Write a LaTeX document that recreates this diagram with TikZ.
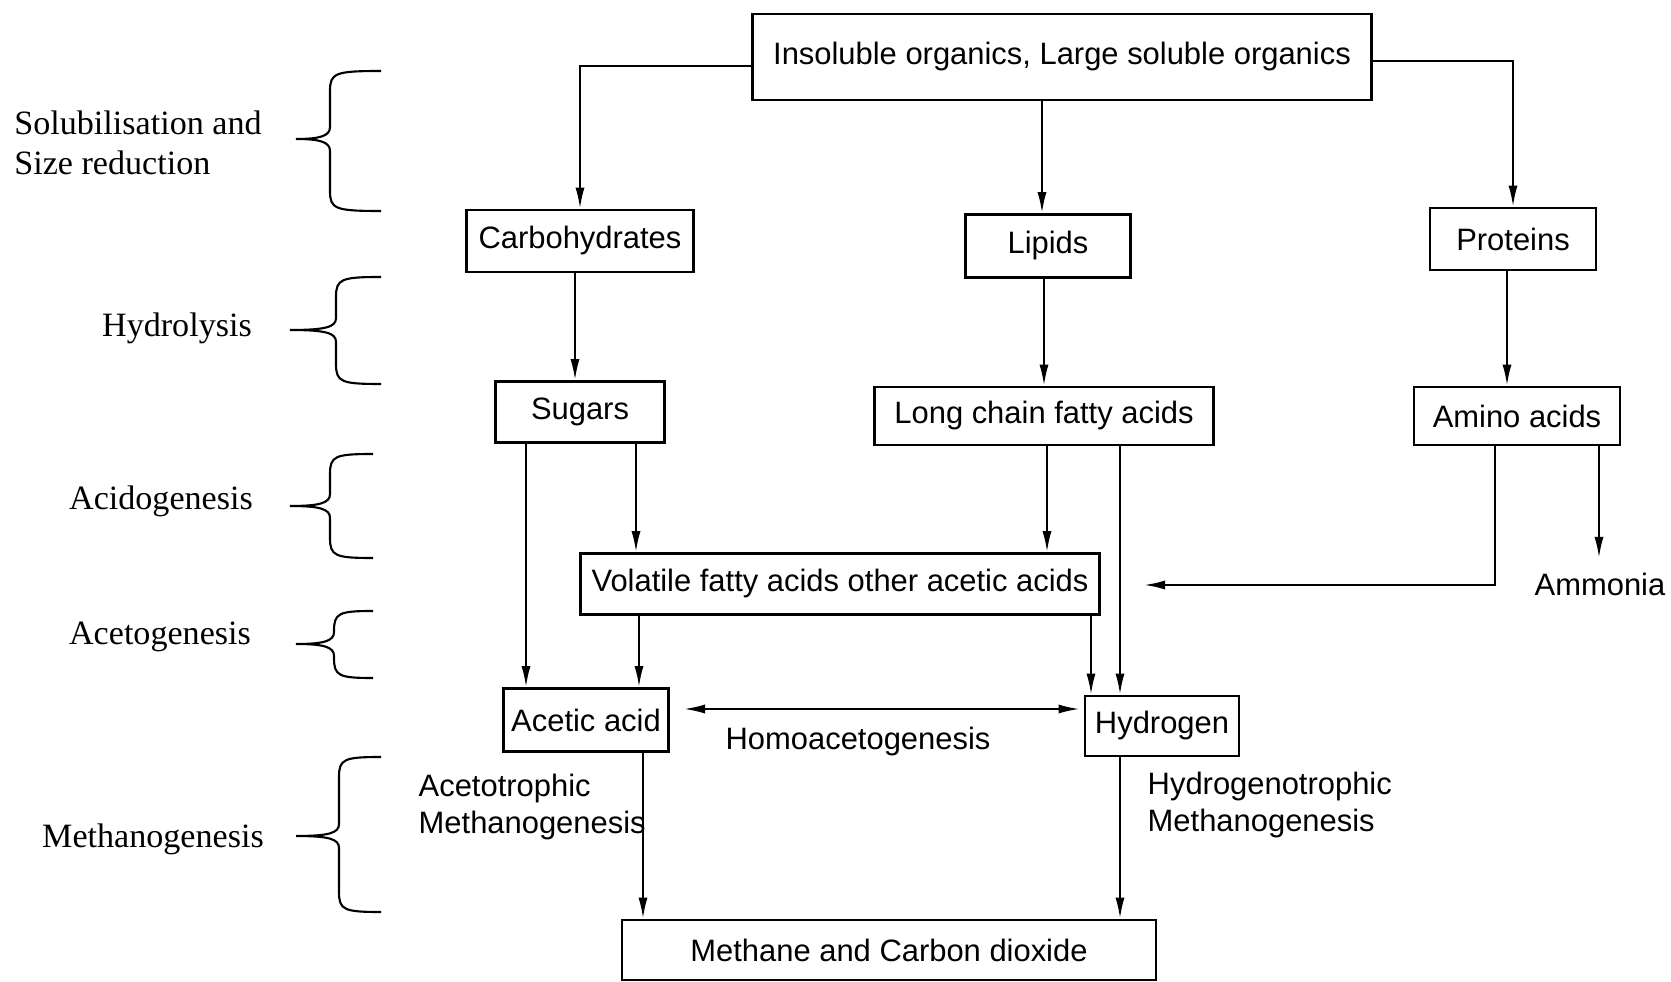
\documentclass[tikz,border=0pt]{standalone}
\usepackage{fontspec}
\setmainfont{Liberation Serif}
\newfontfamily\arialfont{Liberation Sans}
\usetikzlibrary{positioning,arrows.meta}

% left curly brace: tip x, bar x, end x, top y, tip y, bottom y
\newcommand{\phasebrace}[6]{%
  \draw[semithick] (#3,#4) .. controls (#2+0.05,#4) and (#2,#4-0.02) .. (#2,#4-0.2)
    -- (#2,#5+0.12) .. controls (#2,#5+0.03) and (#2-0.1,#5) .. (#1,#5)
    .. controls (#2-0.1,#5) and (#2,#5-0.03) .. (#2,#5-0.12)
    -- (#2,#6+0.2) .. controls (#2,#6+0.02) and (#2+0.05,#6) .. (#3,#6);}

\begin{document}
\begin{tikzpicture}[
    stage/.style={draw, thick, inner sep=0pt, font=\arialfont\fontsize{8.8}{10.5}\selectfont},
    note/.style={font=\arialfont\fontsize{8.8}{10.5}\selectfont, align=left},
    phase/.style={font=\fontsize{9.7}{11.4}\selectfont, align=left},
    flow/.style={-{Latex[length=6pt,width=2.6pt]}, semithick},
    both/.style={{Latex[length=6pt,width=2.6pt]}-{Latex[length=6pt,width=2.6pt]}, semithick}
]
\useasboundingbox (0,0) rectangle (16.71,-9.82);

% process stages
\node[stage, minimum width=6.19cm, minimum height=0.86cm] (organics) at (10.62,-0.57) {Insoluble organics, Large soluble organics};
\node[stage, minimum width=2.27cm, minimum height=0.62cm] (carb) at (5.80,-2.41) {Carbohydrates};
\node[stage, minimum width=1.65cm, minimum height=0.63cm] (lip) at (10.48,-2.46) {Lipids};
\node[stage, minimum width=1.66cm, minimum height=0.62cm] (prot) at (15.13,-2.39) {Proteins};
\node[stage, minimum width=1.69cm, minimum height=0.61cm] (sug) at (5.80,-4.12) {Sugars};
\node[stage, minimum width=3.39cm, minimum height=0.58cm] (lcfa) at (10.44,-4.16) {Long chain fatty acids};
\node[stage, minimum width=2.06cm, minimum height=0.58cm] (amino) at (15.17,-4.16) {Amino acids};
\node[stage, minimum width=5.19cm, minimum height=0.61cm] (vfa) at (8.40,-5.84) {Volatile fatty acids other acetic acids};
\node[stage, minimum width=1.65cm, minimum height=0.63cm] (acetic) at (5.86,-7.20) {Acetic acid};
\node[stage, minimum width=1.54cm, minimum height=0.60cm] (hyd) at (11.62,-7.26) {Hydrogen};
\node[stage, minimum width=5.34cm, minimum height=0.60cm] (meth) at (8.89,-9.50) {Methane and Carbon dioxide};
\node[note, inner sep=4pt] (ammonia) at (16.00,-5.84) {Ammonia};
\coordinate (aminoend) at (11.44,-5.85);

% labels on the paths
\node[note] (homo) at (8.58,-7.42) {Homoacetogenesis};
\node[note, anchor=west, inner sep=0pt] (acetolbl) at (4.18,-8.07) {Acetotrophic\\Methanogenesis};
\node[note, anchor=west, inner sep=0pt] (hydrolbl) at (11.47,-8.05) {Hydrogenotrophic\\Methanogenesis};

% connectors
\draw[flow] ([yshift=-0.09cm]organics.west) -| (carb);
\draw[flow] (10.42,0 |- organics.south) -- (10.42,0 |- lip.north);
\draw[flow] ([yshift=-0.04cm]organics.east) -| (prot);
\draw[flow] (5.75,0 |- carb.south) -- (5.75,0 |- sug.north);
\draw[flow] (10.44,0 |- lip.south) -- (10.44,0 |- lcfa.north);
\draw[flow] (15.07,0 |- prot.south) -- (15.07,0 |- amino.north);
\draw[flow] (5.26,0 |- sug.south) -- (5.26,0 |- acetic.north);
\draw[flow] (6.36,0 |- sug.south) -- (6.36,0 |- vfa.north);
\draw[flow] (10.47,0 |- lcfa.south) -- (10.47,0 |- vfa.north);
\draw[flow] (11.20,0 |- lcfa.south) -- (11.20,0 |- hyd.north);
\draw[flow] (6.39,0 |- vfa.south) -- (6.39,0 |- acetic.north);
\draw[flow] (10.91,0 |- vfa.south) -- (10.91,0 |- hyd.north);
\draw[flow] (14.95,0 |- amino.south) |- (aminoend);
\draw[flow] (15.99,0 |- amino.south) -- (15.99,0 |- ammonia.north);
\draw[both, shorten <=1.4mm, shorten >=0.4mm] (acetic.east |- 0,-7.09) -- (hyd.west |- 0,-7.09);
\draw[flow] (6.43,0 |- acetic.south) -- (6.43,0 |- meth.north);
\draw[flow] (11.20,0 |- hyd.south) -- (11.20,0 |- meth.north);

% phases
\node[phase] (solub) at (1.38,-1.43) {Solubilisation and\\Size reduction};
\node[phase] (hydro) at (1.77,-3.28) {Hydrolysis};
\node[phase] (acido) at (1.61,-5.01) {Acidogenesis};
\node[phase] (aceto) at (1.60,-6.37) {Acetogenesis};
\node[phase] (methano) at (1.53,-8.39) {Methanogenesis};

\phasebrace{2.96}{3.30}{3.81}{-0.71}{-1.39}{-2.11}
\phasebrace{2.90}{3.36}{3.81}{-2.77}{-3.30}{-3.84}
\phasebrace{2.90}{3.30}{3.73}{-4.54}{-5.06}{-5.58}
\phasebrace{2.96}{3.34}{3.73}{-6.11}{-6.44}{-6.78}
\phasebrace{2.96}{3.39}{3.81}{-7.57}{-8.36}{-9.12}
\end{tikzpicture}
\end{document}
